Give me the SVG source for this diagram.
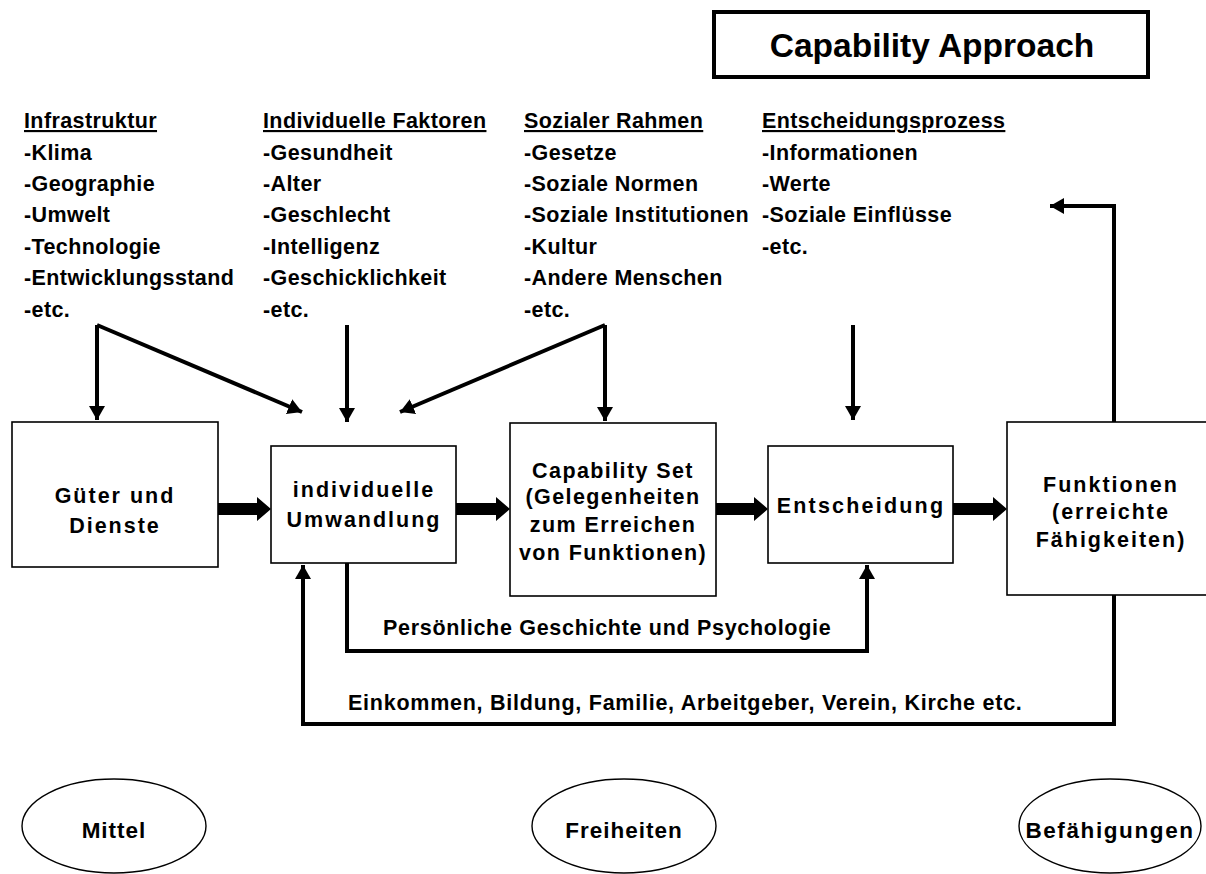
<svg xmlns="http://www.w3.org/2000/svg" width="1206" height="874" viewBox="0 0 1206 874">
<style>
text{font-family:"Liberation Sans",Arial,sans-serif;font-weight:bold;fill:#000}
.l{font-size:21.5px;letter-spacing:0.4px}
.h{text-decoration:underline}
.b{font-size:21.5px;letter-spacing:2px;text-anchor:middle}
.e{font-size:22.5px;letter-spacing:1px;text-anchor:middle}
.box{fill:#fff;stroke:#000;stroke-width:1.6}
.c{fill:none;stroke:#000;stroke-width:4;stroke-linejoin:miter}
.ell{fill:#fff;stroke:#000;stroke-width:1.4}
</style>
<defs>
<marker id="ah" markerUnits="userSpaceOnUse" markerWidth="16" markerHeight="16" refX="14" refY="8" orient="auto"><path d="M0,0 L14,8 L0,16 Z" fill="#000"/></marker>
</defs>
<rect width="1206" height="874" fill="#fff"/>
<g id="title">
<rect x="714" y="12" width="434" height="65" fill="#fff" stroke="#000" stroke-width="4"/>
<text x="932" y="57" style="font-size:33.5px;text-anchor:middle">Capability Approach</text>
</g>
<g id="infrastruktur">
<text class="l h" x="24" y="128">Infrastruktur</text>
<text class="l" x="24" y="160">-Klima</text>
<text class="l" x="24" y="191">-Geographie</text>
<text class="l" x="24" y="222">-Umwelt</text>
<text class="l" x="24" y="254">-Technologie</text>
<text class="l" x="24" y="285">-Entwicklungsstand</text>
<text class="l" x="24" y="317">-etc.</text>
</g>
<g id="individuelle-faktoren">
<text class="l h" x="263" y="128">Individuelle Faktoren</text>
<text class="l" x="263" y="160">-Gesundheit</text>
<text class="l" x="263" y="191">-Alter</text>
<text class="l" x="263" y="222">-Geschlecht</text>
<text class="l" x="263" y="254">-Intelligenz</text>
<text class="l" x="263" y="285">-Geschicklichkeit</text>
<text class="l" x="263" y="317">-etc.</text>
</g>
<g id="sozialer-rahmen">
<text class="l h" x="524" y="128">Sozialer Rahmen</text>
<text class="l" x="524" y="160">-Gesetze</text>
<text class="l" x="524" y="191">-Soziale Normen</text>
<text class="l" x="524" y="222">-Soziale Institutionen</text>
<text class="l" x="524" y="254">-Kultur</text>
<text class="l" x="524" y="285">-Andere Menschen</text>
<text class="l" x="524" y="317">-etc.</text>
</g>
<g id="entscheidungsprozess">
<text class="l h" x="762" y="128">Entscheidungsprozess</text>
<text class="l" x="762" y="160">-Informationen</text>
<text class="l" x="762" y="191">-Werte</text>
<text class="l" x="762" y="222">-Soziale Einflüsse</text>
<text class="l" x="762" y="254">-etc.</text>
</g>
<g id="connectors">
<path class="c" d="M97,325 V420" marker-end="url(#ah)"/>
<path class="c" d="M97,325 L302,412" marker-end="url(#ah)"/>
<path class="c" d="M347,325 V422" marker-end="url(#ah)"/>
<path class="c" d="M605,325 V421" marker-end="url(#ah)"/>
<path class="c" d="M605,325 L400,412" marker-end="url(#ah)"/>
<path class="c" d="M853,325 V420" marker-end="url(#ah)"/>
<path class="c" d="M1114,422 V206 H1050" marker-end="url(#ah)"/>
<path class="c" d="M347,563 V651 H867 V565" marker-end="url(#ah)"/>
<path class="c" d="M1114,595 V724 H303 V565" marker-end="url(#ah)"/>
<polygon points="218,503 257,503 257,497 271,509 257,521 257,515 218,515" fill="#000"/>
<polygon points="456,503 496,503 496,497 510,509 496,521 496,515 456,515" fill="#000"/>
<polygon points="716,503 754,503 754,497 768,509 754,521 754,515 716,515" fill="#000"/>
<polygon points="953,503 993,503 993,497 1007,509 993,521 993,515 953,515" fill="#000"/>
<text class="l" x="383" y="635" style="letter-spacing:0.7px">Persönliche Geschichte und Psychologie</text>
<text class="l" x="348" y="710" style="letter-spacing:0.75px">Einkommen, Bildung, Familie, Arbeitgeber, Verein, Kirche etc.</text>
</g>
<g id="gueter">
<rect class="box" x="12" y="422" width="206" height="145"/>
<text class="b" x="115" y="503">Güter und</text>
<text class="b" x="115" y="533">Dienste</text>
</g>
<g id="umwandlung">
<rect class="box" x="271" y="446" width="185" height="117"/>
<text class="b" x="364" y="497">individuelle</text>
<text class="b" x="364" y="527">Umwandlung</text>
</g>
<g id="capability-set">
<rect class="box" x="510" y="423" width="206" height="173"/>
<text class="b" x="613" y="478" style="letter-spacing:1.4px">Capability Set</text>
<text class="b" x="613" y="504" style="letter-spacing:1.4px">(Gelegenheiten</text>
<text class="b" x="613" y="532" style="letter-spacing:1.4px">zum Erreichen</text>
<text class="b" x="613" y="560" style="letter-spacing:1.4px">von Funktionen)</text>
</g>
<g id="entscheidung">
<rect class="box" x="768" y="446" width="185" height="117"/>
<text class="b" x="861" y="513" style="letter-spacing:2.2px">Entscheidung</text>
</g>
<g id="funktionen">
<rect class="box" x="1007" y="422" width="205" height="173"/>
<text class="b" x="1111" y="492">Funktionen</text>
<text class="b" x="1111" y="519">(erreichte</text>
<text class="b" x="1111" y="547">Fähigkeiten)</text>
</g>
<g id="mittel">
<ellipse class="ell" cx="114" cy="826" rx="92" ry="47"/>
<text class="e" x="114" y="838">Mittel</text>
</g>
<g id="freiheiten">
<ellipse class="ell" cx="624" cy="826" rx="92" ry="47"/>
<text class="e" x="624" y="838">Freiheiten</text>
</g>
<g id="befaehigungen">
<ellipse class="ell" cx="1110" cy="826" rx="91" ry="47"/>
<text class="e" x="1110" y="838" style="letter-spacing:1.6px">Befähigungen</text>
</g>
</svg>
